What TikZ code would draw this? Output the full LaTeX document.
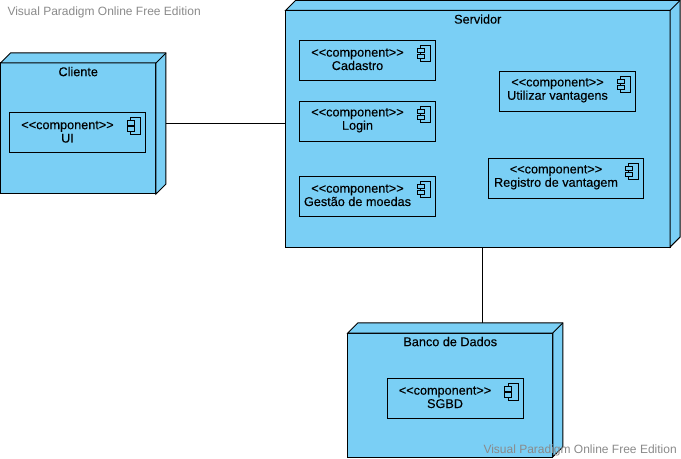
\documentclass[tikz,border=0pt]{standalone}
\usepackage{fontspec}
\setmainfont{Liberation Sans}
\newfontfamily\diagramfont[FakeBold=0.2]{Liberation Sans}
\usepackage{xcolor}
\definecolor{nodeblue}{HTML}{7ACFF5}
\definecolor{markgray}{HTML}{8A8A8A}
\newcommand{\stereotype}{<{}<component>{}>}
\tikzset{
	deploybox/.style={rectangle, draw, fill=nodeblue, outer sep=0pt, inner sep=0pt, label={[nodetitle]north:#1}},
	nodetitle/.style={anchor=north, yshift=-2.6pt, inner sep=0pt, font=\diagramfont\fontsize{9.5pt}{11pt}\selectfont},
	compbox/.style={rectangle, draw, fill=nodeblue, outer sep=0pt, inner sep=0pt, minimum height=30pt,
		label={[comptext]center:\stereotype\\#1}},
	comptext/.style={xshift=-7.5pt, yshift=0.9pt, inner sep=0pt, align=center,
		font=\diagramfont\fontsize{9.5pt}{10pt}\selectfont},
	facebox/.style={draw, fill=nodeblue, line join=miter},
	watermark/.style={text=markgray, inner sep=0pt, font=\fontsize{9pt}{11pt}\selectfont}
}

\begin{document}
\begin{tikzpicture}[x=0.75pt, y=-0.75pt, line width=0.75pt]
	\useasboundingbox (0,0) rectangle (681,459);

	% Facce frontali dei nodi
	\node[deploybox=Cliente, minimum width=116.6pt, minimum height=98.25pt] (cliente) at (78.25,128.5) {};
	\node[deploybox=Servidor, minimum width=288.4pt, minimum height=177.4pt] (servidor) at (477.75,128.75) {};
	\node[deploybox=Banco de Dados, minimum width=153.75pt, minimum height=93pt] (banco) at (450.25,395) {};

	% Collegamenti
	\draw ([yshift=3.75pt]cliente.east) -- ([yshift=3.75pt]cliente.east -| servidor.west);
	\draw ([xshift=3.6pt]servidor.south) -- ([xshift=3.6pt]servidor.south |- banco.north);

	% Facce laterali
	\foreach \n in {cliente, servidor, banco} {
		\draw[facebox] (\n.north west) -- ++(10,-10) -| ([shift={(10,-10)}]\n.south east) -- (\n.south east) -- (\n.north east) -- cycle;
		\draw (\n.north east) -- ++(10,-10);
	}

	% Componenti
	\node[compbox=UI, minimum width=102pt] (ui) at (77.5,133) {};
	\node[compbox=Cadastro, minimum width=102pt] (cadastro) at (367.5,60.5) {};
	\node[compbox=Login, minimum width=102pt] (login) at (367.5,121.5) {};
	\node[compbox=Gestão de moedas, minimum width=102pt] (gestao) at (367.5,196.5) {};
	\node[compbox=Utilizar vantagens, minimum width=102pt] (utilizar) at (567.5,91.5) {};
	\node[compbox=Registro de vantagem, minimum width=116.25pt] (registro) at (566,178.5) {};
	\node[compbox=SGBD, minimum width=102pt] (sgbd) at (455,398.5) {};

	% Icone dei componenti
	\foreach \n in {ui, cadastro, login, gestao, utilizar, registro, sgbd} {
		\draw ([shift={(-15,5)}]\n.north east) rectangle ([shift={(-5,21.5)}]\n.north east);
		\draw[fill=nodeblue] ([shift={(-18.2,7.7)}]\n.north east) rectangle ([shift={(-11.5,12.5)}]\n.north east);
		\draw[fill=nodeblue] ([shift={(-18.2,13.7)}]\n.north east) rectangle ([shift={(-11.5,18.5)}]\n.north east);
	}

	% Scritte
	\node[watermark, anchor=west] (markTop) at (7,12) {Visual Paradigm Online Free Edition};
	\node[watermark, anchor=west] (markBottom) at (483,450) {Visual Paradigm Online Free Edition};
\end{tikzpicture}
\end{document}
